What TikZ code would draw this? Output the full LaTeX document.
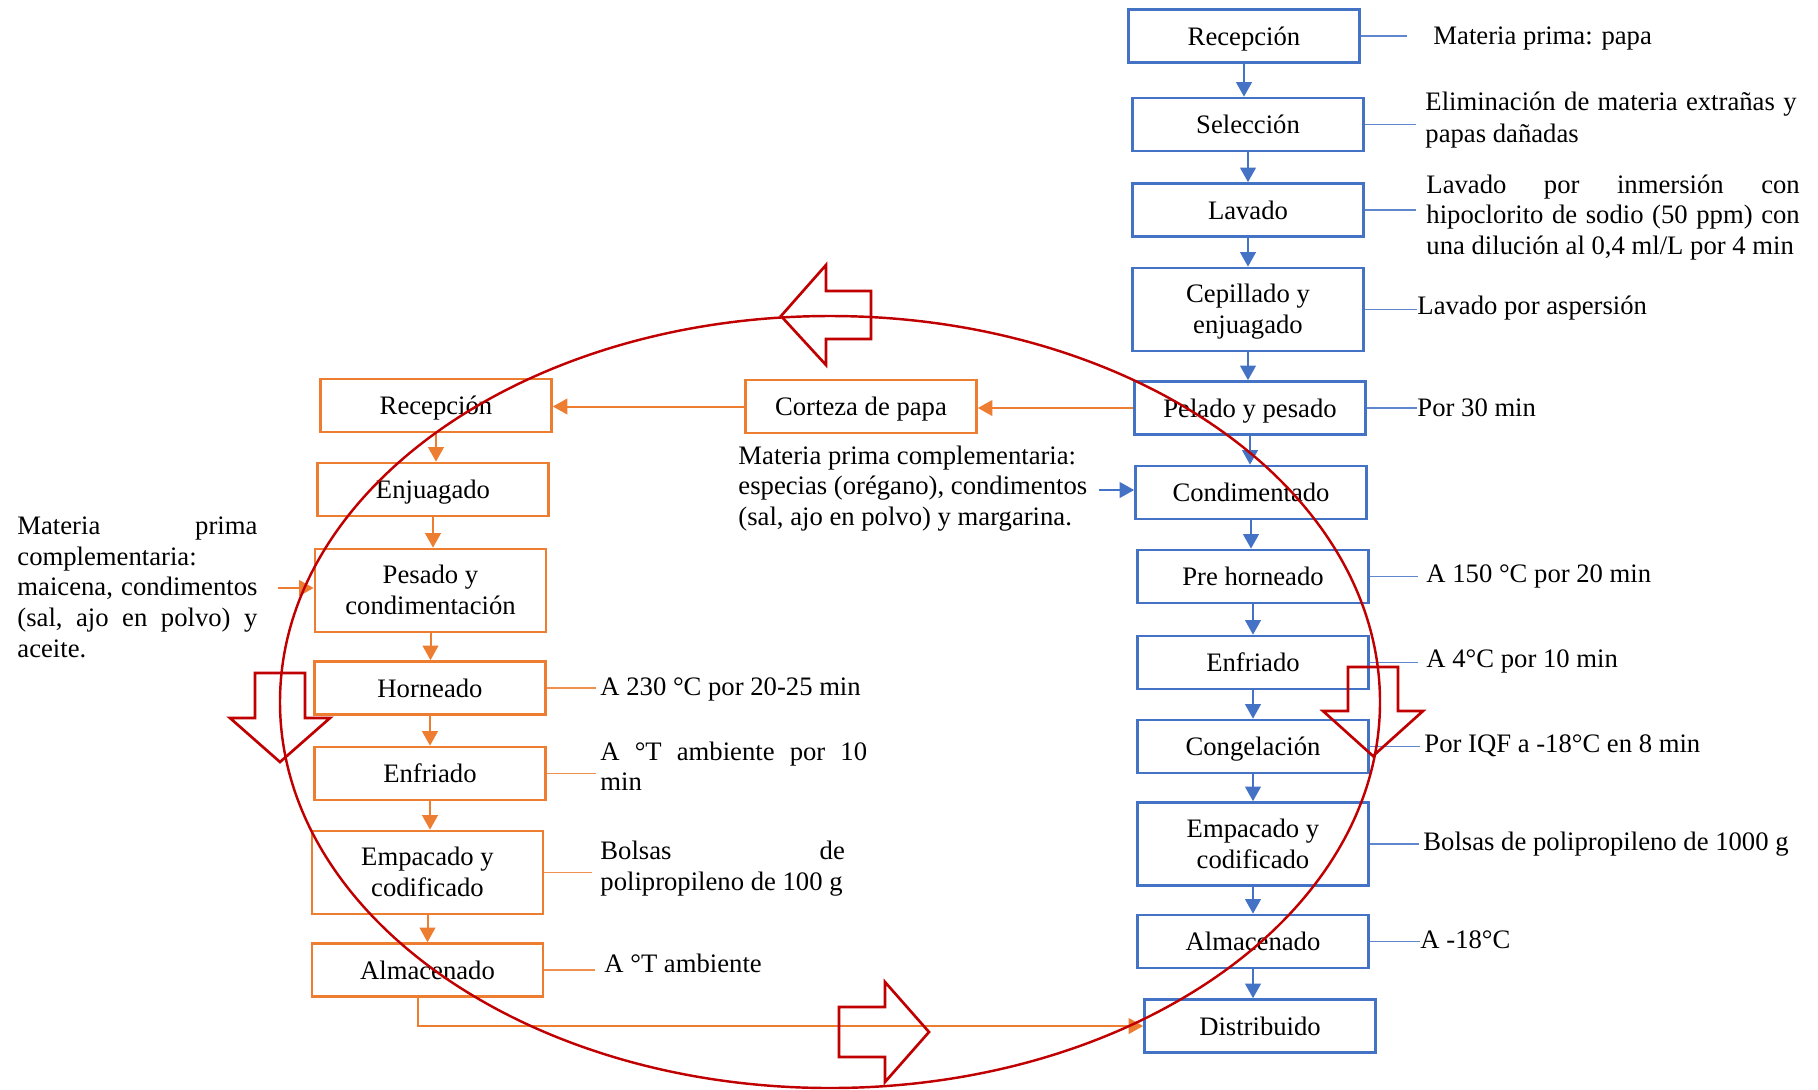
\documentclass[tikz,border=0pt]{standalone}
\usepackage{fontspec}
\setmainfont{Liberation Serif}
\usetikzlibrary{arrows.meta}
\definecolor{flowblue}{HTML}{4472C4}
\definecolor{floworange}{HTML}{ED7D31}
\definecolor{cyclered}{HTML}{C00000}

\begin{document}
\begin{tikzpicture}[x=0.45pt,y=-0.45pt,
  every node/.style={font=\fontsize{12}{13.8}\selectfont, inner sep=0pt},
  boxbase/.style={line width=1.15pt, minimum width=104pt, minimum height=23.9pt,
    align=center, text height=10pt, text depth=1.8pt},
  bbox/.style={boxbase, draw=flowblue},
  obox/.style={boxbase, draw=floworange},
  tall/.style={minimum height=37.4pt, text height=, text depth=},
  barrow/.style={draw=flowblue, line width=0.9pt, -{Triangle[width=7pt,length=6.5pt]}},
  oarrow/.style={draw=floworange, line width=0.9pt, -{Triangle[width=7pt,length=6.5pt]}},
  bline/.style={draw=flowblue!85, line width=0.6pt},
  oline/.style={draw=floworange!85, line width=0.6pt},
  note/.style={anchor=west, align=left, text height=9pt, text depth=2pt},
  para/.style={anchor=west, align=left, yshift=-0.6pt},
  block/.style={draw=cyclered, line width=1.2pt, line join=miter},
]
\newcommand{\toprow}{\rule{0pt}{10.5pt}}
\newcommand{\botrow}{\rule[-2.6pt]{0pt}{2.6pt}}
\useasboundingbox (0,0) rectangle (1818,1089);

% main line: frozen potato product
\node[bbox] (r1) at (1244,36) {Recepción};
\node[bbox] (r2) at (1248,124.5) {Selección};
\node[bbox] (r3) at (1248,210) {Lavado};
\node[bbox,tall] (r4) at (1248,309.5) {\toprow Cepillado y\\enjuagado\botrow};
\node[bbox] (r5) at (1250,408) {Pelado y pesado};
\node[bbox] (r6) at (1251,492.5) {Condimentado};
\node[bbox] (r7) at (1253,576.5) {Pre horneado};
\node[bbox] (r8) at (1253,662.5) {Enfriado};
\node[bbox] (r9) at (1253,746.5) {Congelación};
\node[bbox,tall] (r10) at (1253,844) {\toprow Empacado y\\codificado\botrow};
\node[bbox] (r11) at (1253,941.5) {Almacenado};
\node[bbox] (r12) at (1260,1026) {Distribuido};

\foreach \a/\b in {r1/r2,r2/r3,r3/r4,r4/r5,r5/r6,r6/r7,r7/r8,r8/r9,r9/r10,r10/r11,r11/r12}
  \draw[barrow] (\a.south) -- (\a.south |- \b.north);

% notes of the main line
\node[note] (t1) at (1433,37) {Materia prima: papa};
\node[para, font=\fontsize{12}{14.6}\selectfont] (t2) at (1425,118.5)
  {\hbox to 167pt{Eliminación\hfill de\hfill materia\hfill extrañas\hfill y}\\papas dañadas};
\node[para] (t3) at (1426,216)
  {\hbox to 168pt{Lavado\hfill por\hfill inmersión\hfill con}\\
   \hbox to 168pt{hipoclorito\hfill de\hfill sodio\hfill (50\hfill ppm)\hfill con}\\
   una dilución al 0,4 ml/L por 4 min};
\node[note] (t4) at (1417,307) {Lavado por aspersión};
\node[note] (t5) at (1417,409) {Por 30 min};
\node[note] (t6) at (1426,575) {A 150 °C por 20 min};
\node[note] (t7) at (1426,660) {A 4°C por 10 min};
\node[note] (t8) at (1424,745) {Por IQF a -18°C en 8 min};
\node[note] (t9) at (1423,843) {Bolsas de polipropileno de 1000 g};
\node[note] (t10) at (1420,941) {A -18°C};

\draw[bline, shorten >=11.7pt] (r1.east) -- (r1.east -| t1.west);
\draw[bline, shorten >=4pt] (r2.east) -- (r2.east -| t2.west);
\draw[bline, shorten >=4.5pt] (r3.east) -- (r3.east -| t3.west);
\draw[bline] (r4.east) -- (r4.east -| t4.west);
\draw[bline] (r5.east) -- (r5.east -| t5.west);
\draw[bline, shorten >=3.6pt] (r7.east) -- (r7.east -| t6.west);
\draw[bline, shorten >=3.6pt] (r8.east) -- (r8.east -| t7.west);
\draw[bline, shorten >=2pt] (r9.east) -- (r9.east -| t8.west);
\draw[bline, shorten >=2pt] (r10.east) -- (r10.east -| t9.west);
\draw[bline] (r11.east) -- (r11.east -| t10.west);

% seasoning input of the main line
\node[para] (mid) at (738,487)
  {Materia prima complementaria:\\especias (orégano), condimentos\\(sal, ajo en polvo) y margarina.};
\coordinate (midin) at (1099,490);
\draw[barrow] (midin) -- (midin -| r6.west);

% by-product line: potato peel snack
\node[obox] (cp) at (861,406.5) {Corteza de papa};
\node[obox] (l1) at (436,405.5) {Recepción};
\node[obox] (l2) at (433,489.5) {Enjuagado};
\node[obox,tall] (l3) at (430.5,590.5) {\toprow Pesado y\\condimentación\botrow};
\node[obox] (l4) at (430,688) {Horneado};
\node[obox] (l5) at (430,773.5) {Enfriado};
\node[obox,tall] (l6) at (427.5,872.5) {\toprow Empacado y\\codificado\botrow};
\node[obox] (l7) at (427.5,970) {Almacenado};

\draw[oarrow] (r5.west) -- (r5.west -| cp.east);
\draw[oarrow] (cp.west) -- (cp.west -| l1.east);
\foreach \a/\b in {l1/l2,l2/l3,l3/l4,l4/l5,l5/l6,l6/l7}
  \draw[oarrow] (\a.south) -- (\a.south |- \b.north);
\draw[oarrow] ([xshift=-4.3pt]l7.south) |- (r12.west);

\node[para] (lin) at (17,586)
  {\hbox to 108pt{Materia\hfill prima}\\complementaria:\\
   \hbox to 108pt{maicena,\hfill condimentos}\\
   \hbox to 108pt{(sal,\hfill ajo\hfill en\hfill polvo)\hfill y}\\aceite.};
\coordinate (linin) at (278,588);
\draw[oarrow] (linin) -- (linin -| l3.west);

\node[note] (u1) at (600,688) {A 230 °C por 20-25 min};
\node[para] (u2) at (600,765)
  {\hbox to 120pt{A\hfill °T\hfill ambiente\hfill por\hfill 10}\\min};
\node[para] (u3) at (600,867.5)
  {\hbox to 110pt{Bolsas\hfill de}\\polipropileno de 100 g};
\node[note] (u4) at (604,965) {A °T ambiente};

\draw[oline, shorten >=2pt] (l4.east) -- (l4.east -| u1.west);
\draw[oline, shorten >=2pt] (l5.east) -- (l5.east -| u2.west);
\draw[oline, shorten >=3.6pt] (l6.east) -- (l6.east -| u3.west);
\draw[oline, shorten >=4pt] (l7.east) -- (l7.east -| u4.west);

% circular economy loop
\draw[cyclered, line width=1.1pt] (830,702) ellipse [x radius=247.5pt, y radius=173.7pt];
\draw[block] (781,316) -- (826,265) -- (826,291) -- (871,291) -- (871,339) -- (826,339) -- (826,365) -- cycle;
\draw[block] (255,673) -- (305,673) -- (305,718) -- (330,718) -- (280,762) -- (230,718) -- (255,718) -- cycle;
\draw[block] (1348,667) -- (1398,667) -- (1398,711) -- (1423,711) -- (1373,756) -- (1323,711) -- (1348,711) -- cycle;
\draw[block] (839,1007) -- (885,1007) -- (885,982) -- (929,1032) -- (885,1082) -- (885,1057) -- (839,1057) -- cycle;
\end{tikzpicture}
\end{document}
